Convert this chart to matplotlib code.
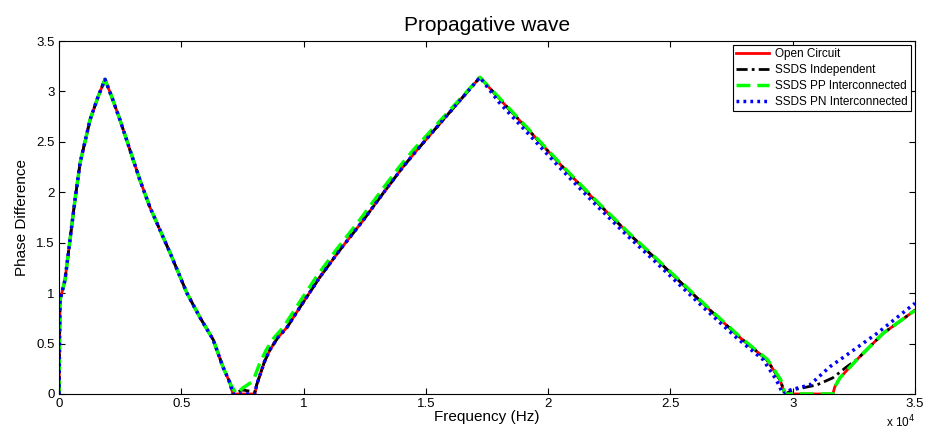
import matplotlib.pyplot as plt

plt.rcParams['font.family'] = ['Liberation Sans', 'DejaVu Sans']

# Open circuit (red)
freq_oc = [0, 40, 245, 450, 650, 860, 1270, 1600, 1880, 2150, 2490, 3310, 3720, 4540, 5230, 5760,
           6300, 6700, 6990, 7110, 8010, 8080, 8220, 8400, 8630, 8950, 9320, 9850, 10670, 11490,
           12430, 13250, 14060, 14640, 17210, 18150, 19380, 20600, 22000, 23340, 24450, 25100,
           26490, 27840, 28940, 29480, 29680, 31640, 31720, 31930, 32620, 33690, 35000]
phase_oc = [0, 0.93, 1.13, 1.53, 1.92, 2.29, 2.72, 2.95, 3.12, 2.95, 2.72, 2.12, 1.85, 1.40, 1.0, 0.76,
            0.54, 0.27, 0.11, 0.0, 0.0, 0.09, 0.19, 0.32, 0.44, 0.56, 0.66, 0.86, 1.16, 1.43,
            1.72, 1.99, 2.25, 2.42, 3.14, 2.89, 2.57, 2.25, 1.90, 1.58, 1.33, 1.18,
            0.86, 0.56, 0.34, 0.14, 0.0, 0.0, 0.07, 0.16, 0.34, 0.6, 0.83]

# SSDS independent (black)
freq_ind = [0, 40, 245, 450, 650, 860, 1270, 1600, 1880, 2150, 2490, 3310, 3720, 4540, 5230, 5760,
            6300, 6700, 6990, 7110, 7500, 8010, 8080, 8220, 8400, 8630, 8950, 9320, 9850, 10670, 11490,
            12430, 13250, 14060, 14640, 17210, 18150, 19380, 20600, 22000, 23340, 24450, 25100,
            26490, 27840, 28940, 29480, 29700, 30000, 30990, 31640, 32210, 32620, 33690, 35000]
phase_ind = [0, 0.93, 1.13, 1.53, 1.92, 2.29, 2.72, 2.95, 3.12, 2.95, 2.72, 2.12, 1.85, 1.40, 1.0, 0.76,
             0.54, 0.27, 0.11, 0.0, 0.04, 0.02, 0.09, 0.19, 0.32, 0.44, 0.56, 0.66, 0.86, 1.16, 1.43,
             1.72, 1.99, 2.25, 2.42, 3.14, 2.89, 2.57, 2.25, 1.90, 1.58, 1.33, 1.18,
             0.86, 0.56, 0.34, 0.14, 0.0, 0.04, 0.09, 0.16, 0.27, 0.34, 0.6, 0.83]

# SSDS PP interconnected (green)
freq_pp = [0, 40, 245, 450, 650, 860, 1270, 1600, 1880, 2150, 2490, 3310, 3720, 4540, 5230, 5760,
           6300, 6700, 7000, 7250, 7520, 7890, 8000, 8200, 8480, 8800, 9170, 9700, 10520, 11340,
           12280, 13100, 13910, 14490, 17210, 18180, 19410, 20630, 22030, 23370, 24480, 25130,
           26520, 27870, 28970, 29510, 29680, 31640, 31720, 31930, 32620, 33690, 35000]
phase_pp = [0, 0.93, 1.13, 1.53, 1.92, 2.29, 2.72, 2.95, 3.12, 2.95, 2.72, 2.12, 1.85, 1.40, 1.0, 0.76,
            0.54, 0.27, 0.10, 0.0, 0.06, 0.12, 0.17, 0.30, 0.44, 0.56, 0.66, 0.86, 1.16, 1.43,
            1.72, 1.99, 2.25, 2.42, 3.14, 2.89, 2.57, 2.25, 1.90, 1.58, 1.33, 1.18,
            0.86, 0.56, 0.34, 0.14, 0.0, 0.0, 0.07, 0.16, 0.34, 0.6, 0.83]

# SSDS PN interconnected (blue)
freq_pn = [0, 40, 245, 450, 650, 860, 1270, 1600, 1880, 2150, 2490, 3310, 3720, 4540, 5230, 5760,
           6300, 6700, 6990, 7110, 8010, 8080, 8220, 8400, 8630, 8950, 9320, 9850, 10670, 11490,
           12430, 13250, 14060, 14640, 17210, 18000, 19230, 20450, 21850, 23190, 24300, 24950,
           26340, 27690, 28790, 29330, 29600, 29900, 30700, 31520, 32340, 33440, 34790, 35000]
phase_pn = [0, 0.93, 1.13, 1.53, 1.92, 2.29, 2.72, 2.95, 3.12, 2.95, 2.72, 2.12, 1.85, 1.40, 1.0, 0.76,
            0.54, 0.27, 0.11, 0.0, 0.0, 0.09, 0.19, 0.32, 0.44, 0.56, 0.66, 0.86, 1.16, 1.43,
            1.72, 1.99, 2.25, 2.42, 3.14, 2.89, 2.57, 2.25, 1.90, 1.58, 1.33, 1.18,
            0.86, 0.56, 0.34, 0.14, 0.0, 0.04, 0.09, 0.27, 0.41, 0.6, 0.86, 0.9]

xtick_vals = [0, 5000, 10000, 15000, 20000, 25000, 30000, 35000]
xtick_labels = ['0', '0.5', '1', '1.5', '2', '2.5', '3', '3.5']
ytick_vals = [0, 0.5, 1, 1.5, 2, 2.5, 3, 3.5]
ytick_labels = ['0', '0.5', '1', '1.5', '2', '2.5', '3', '3.5']

fig = plt.figure(figsize=(9.28, 4.32), dpi=100)
ax = fig.add_axes([0.0636, 0.088, 0.9224, 0.817])

ax.plot(freq_oc, phase_oc, color='#ff0000', lw=2, ls='-', label='Open Circuit')
ax.plot(freq_ind, phase_ind, color='black', lw=2, ls=(0, (4, 1.5, 1, 1.5)), label='SSDS Independent')
ax.plot(freq_pp, phase_pp, color='#00ff00', lw=2.5, ls=(0, (4, 2)), label='SSDS PP Interconnected')
ax.plot(freq_pn, phase_pn, color='#0000ff', lw=2.5, ls=(0, (0.8, 1.2)), label='SSDS PN Interconnected')

ax.set_xlim(0, 35000)
ax.set_ylim(0, 3.5)
ax.set_xticks(xtick_vals)
ax.set_xticklabels(xtick_labels)
ax.set_yticks(ytick_vals)
ax.set_yticklabels(ytick_labels)
ax.tick_params(direction='in', top=True, right=True, length=4, width=0.8, labelsize=9.5, pad=3)
for s in ax.spines.values():
    s.set_linewidth(0.8)

ax.set_xlabel('Frequency (Hz)', fontsize=11, labelpad=0)
ax.set_ylabel('Phase Difference', fontsize=11, labelpad=5)
ax.set_title('Propagative wave', fontsize=15, pad=7)
fig.text(0.986, 0.004, r'x 10$^4$', ha='right', va='bottom', fontsize=8.5)

leg = ax.legend(loc='upper right', fontsize=8.5, fancybox=False, framealpha=1, edgecolor='black',
                handlelength=2.8, handletextpad=0.5, borderaxespad=0.3, labelspacing=0.33, borderpad=0.3)
leg.get_frame().set_linewidth(0.8)

fig.savefig('out.png', dpi=100)
